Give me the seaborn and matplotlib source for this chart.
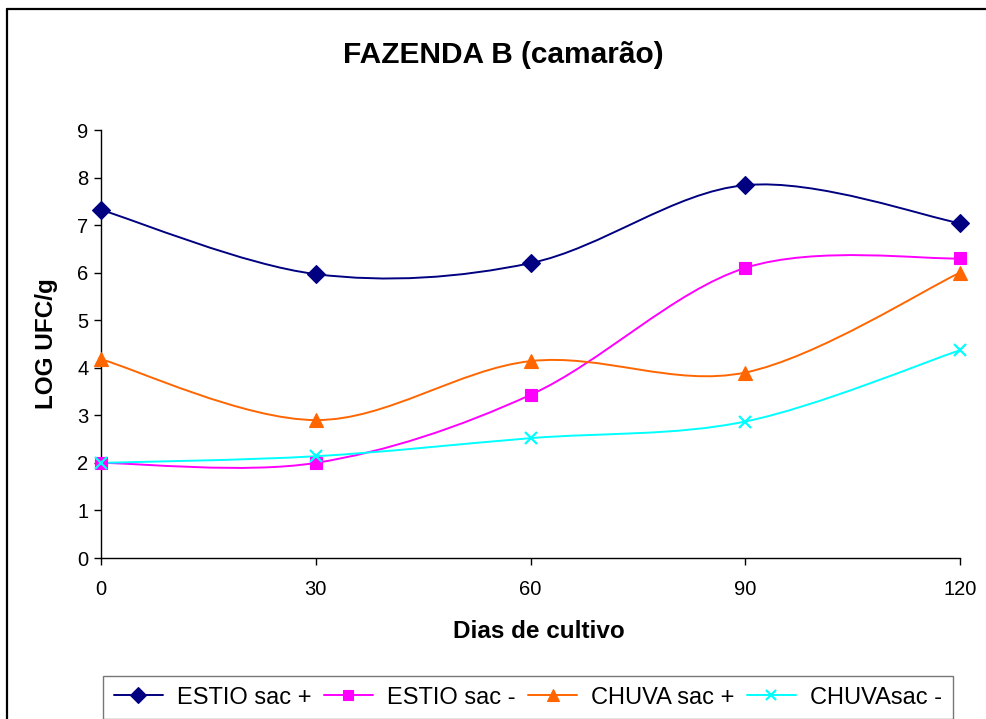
import numpy as np
import pandas as pd
import matplotlib
matplotlib.use("Agg")
import matplotlib.pyplot as plt
import seaborn as sns
from matplotlib.path import Path
from matplotlib.patches import PathPatch
from matplotlib.lines import Line2D

# dados
dias = [0, 30, 60, 90, 120]
estio_mais = [7.32, 5.97, 6.20, 7.84, 7.04]
estio_menos = [2.00, 2.00, 3.43, 6.10, 6.30]
chuva_mais = [4.18, 2.90, 4.14, 3.90, 6.00]
chuva_menos = [2.00, 2.14, 2.52, 2.87, 4.37]

series = [
    ("ESTIO sac +", estio_mais, "#000080", "D", 9),
    ("ESTIO sac -", estio_menos, "#FF00FF", "s", 8.5),
    ("CHUVA sac +", chuva_mais, "#FF6600", "^", 10),
    ("CHUVAsac -", chuva_menos, "#00FFFF", "x", 9),
]


def smooth_path(x, y):
    """curva suavizada estilo Excel (Bezier, Catmull-Rom)"""
    pts = np.column_stack([x, y]).astype(float)
    n = len(pts)
    verts = [pts[0]]
    codes = [Path.MOVETO]
    for i in range(n - 1):
        p0 = pts[i - 1] if i > 0 else pts[i]
        p1 = pts[i]
        p2 = pts[i + 1]
        p3 = pts[i + 2] if i + 2 < n else pts[i + 1]
        c1 = p1 + (p2 - p0) / 6.0
        c2 = p2 - (p3 - p1) / 6.0
        verts += [c1, c2, p2]
        codes += [Path.CURVE4] * 3
    return Path(verts, codes)


sns.set_style("white")
plt.rcParams["font.family"] = ["Liberation Sans", "DejaVu Sans"]
plt.rcParams["text.color"] = "black"
plt.rcParams["axes.labelcolor"] = "black"
plt.rcParams["xtick.color"] = "black"
plt.rcParams["ytick.color"] = "black"

fig = plt.figure(figsize=(9.86, 7.19), dpi=100)
ax = fig.add_axes([101 / 986, 1 - 558 / 719, (960 - 101) / 986, (558 - 130) / 719])

handles = []
for nome, vals, cor, mk, ms in series:
    df = pd.DataFrame({"dias": dias, "log": vals})
    patch = PathPatch(smooth_path(dias, vals), facecolor="none", edgecolor=cor,
                      lw=1.4, zorder=2)
    ax.add_patch(patch)
    mew = 1.6 if mk == "x" else 0.8
    sns.lineplot(data=df, x="dias", y="log", ax=ax, linestyle="", marker=mk,
                 markersize=ms, color=cor, markeredgecolor=cor,
                 markeredgewidth=mew, zorder=3, clip_on=False)
    handles.append(Line2D([], [], color=cor, lw=1.4, marker=mk,
                          markersize=ms * 0.85, markeredgecolor=cor,
                          markeredgewidth=mew, label=nome))

ax.set_xlim(0, 120)
ax.set_ylim(0, 9)
ax.set_xticks(dias)
ax.set_yticks(range(0, 10))
ax.tick_params(axis="both", direction="out", length=5, width=1, colors="black",
               labelsize=14.5, bottom=True, left=True)
ax.tick_params(axis="x", pad=11)
ax.tick_params(axis="y", pad=4)
for s in ["top", "right"]:
    ax.spines[s].set_visible(False)
for s in ["left", "bottom"]:
    ax.spines[s].set_color("black")
    ax.spines[s].set_linewidth(1.0)

ax.set_xlabel("Dias de cultivo", fontsize=17.5, fontweight="bold")
ax.set_ylabel("LOG UFC/g", fontsize=17.5, fontweight="bold")
ax.xaxis.label.set_va("center")
ax.yaxis.label.set_va("center")
ax.xaxis.set_label_coords((539 - 101) / 859, (558 - 632) / 428)
ax.yaxis.set_label_coords((47 - 101) / 859, 0.5)

fig.text(503 / 986, 1 - 55 / 719, "FAZENDA B (camarão)", fontsize=21.5,
         fontweight="bold", ha="center", va="center")

leg = fig.legend(handles=handles, loc="upper left", ncol=4,
                 bbox_to_anchor=(103 / 986, 1 - 676 / 719),
                 fontsize=17, frameon=True, fancybox=False,
                 handlelength=2.1, handletextpad=0.6, columnspacing=0.5,
                 borderpad=0.45, borderaxespad=0)
leg.get_frame().set_edgecolor("#555555")
leg.get_frame().set_linewidth(1.0)

# moldura externa do grafico
fig.add_artist(Line2D([7 / 986, 7 / 986], [0, 1 - 9 / 719], color="black",
                      lw=1.6, transform=fig.transFigure))
fig.add_artist(Line2D([7 / 986, 1], [1 - 9 / 719, 1 - 9 / 719], color="black",
                      lw=1.6, transform=fig.transFigure))

fig.savefig("out.png", dpi=100)
